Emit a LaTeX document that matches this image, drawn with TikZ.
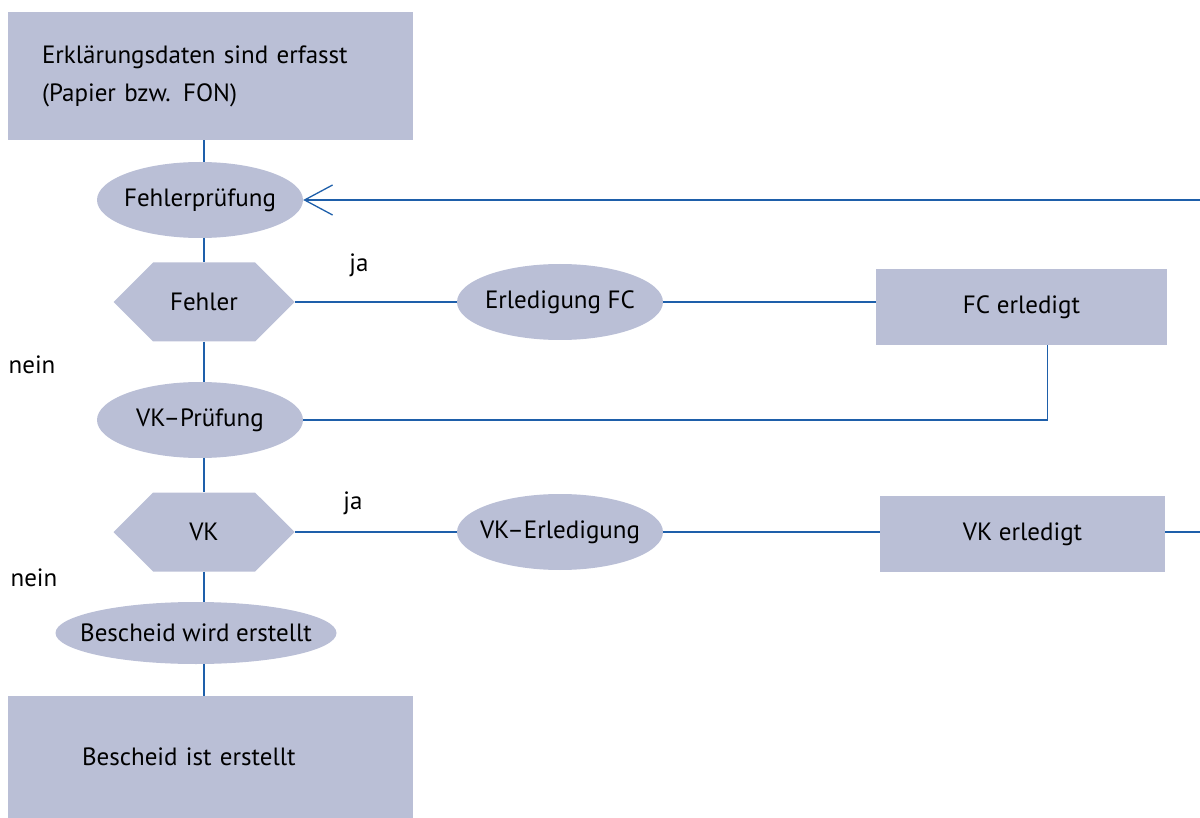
\documentclass[tikz,border=0pt]{standalone}
\usepackage{fontspec}
\setmainfont{PT Sans}
\usepackage{xcolor}
\usepackage{tikz}
\usetikzlibrary{arrows.meta,positioning,shapes.geometric,shapes.symbols}
\definecolor{boxfill}{RGB}{186,191,214}
\definecolor{linkblue}{RGB}{30,95,170}

\begin{document}
\begin{tikzpicture}[x=1pt,y=-1pt,
    every node/.style={font=\fontsize{25}{38}\selectfont},
    boxnode/.style={rectangle,fill=boxfill,inner sep=0pt},
    oval/.style={ellipse,fill=boxfill,inner sep=0pt,minimum width=206pt,minimum height=76pt},
    hexa/.style={signal,signal to=west and east,signal pointer angle=90,fill=boxfill,inner sep=0pt,minimum width=181pt,minimum height=79pt},
    link/.style={draw=linkblue,line width=1.3pt}]
    \useasboundingbox (0,0) rectangle (1200,818);
    % left column
    \node[boxnode,minimum width=405pt,minimum height=128pt,text width=337pt,align=left] (erfasst) at (210.5,76)
    {Erklärungsdaten sind erfasst\\(Papier bzw. FON)};
    \node[oval] (fpruef) at (200,200) {\makebox[0pt]{Fehlerprüfung}};
    \node[hexa] (fehler) at (204,302) {Fehler};
    \node[oval] (vkpruef) at (200,420) {\makebox[0pt]{VK--Prüfung}};
    \node[hexa] (vk) at (204,532) {VK};
    \node[oval,minimum width=281pt,minimum height=62pt] (bwird) at (196,633) {\makebox[0pt]{Bescheid wird erstellt}};
    \node[boxnode,minimum width=405pt,minimum height=122pt,text width=257pt,align=left] (bist) at (210.5,757)
    {Bescheid ist erstellt};
    % right branches
    \node[oval] (erlfc) at (560,302) {\makebox[0pt]{Erledigung FC}};
    \node[boxnode,minimum width=291pt,minimum height=76pt] (fcdone) at (1021.5,307) {FC erledigt};
    \node[oval] (vkerl) at (560,532) {\makebox[0pt]{VK--Erledigung}};
    \node[boxnode,minimum width=285pt,minimum height=76pt] (vkdone) at (1022.5,534) {VK erledigt};
    \coordinate (back) at (1200,200);
    \coordinate (vkout) at (1200,532);
    % labels
    \node (ja1) at (359,265) {ja};
    \node (ja2) at (353,503) {ja};
    \node (nein1) at (32,365) {nein};
    \node (nein2) at (34,578) {nein};

    \draw[link] (erfasst.south -| fehler.north) -- (fpruef.north -| fehler.north);
    \draw[link] (fpruef.south -| fehler.north) -- (fehler.north);
    \draw[link] (fehler.south) -- (vkpruef.north -| fehler.south);
    \draw[link] (vkpruef.south -| vk.north) -- (vk.north);
    \draw[link] (vk.south) -- (bwird.north -| vk.south);
    \draw[link] (bwird.south -| vk.south) -- (bist.north -| vk.south);

    \draw[link] (fehler.east) -- (erlfc.west);
    \draw[link] (erlfc.east) -- (erlfc.east -| fcdone.west);
    \draw[link] ([xshift=26pt]fcdone.south) |- (vkpruef.east);
    \draw[link] (vk.east) -- (vkerl.west);
    \draw[link] (vkerl.east) -- (vkerl.east -| vkdone.west);
    \draw[link] (vkdone.east |- vkout) -- (vkout);
    \draw[link,-{Straight Barb[length=28pt,width=30pt]}] (back) -- (fpruef.east);
\end{tikzpicture}
\end{document}
